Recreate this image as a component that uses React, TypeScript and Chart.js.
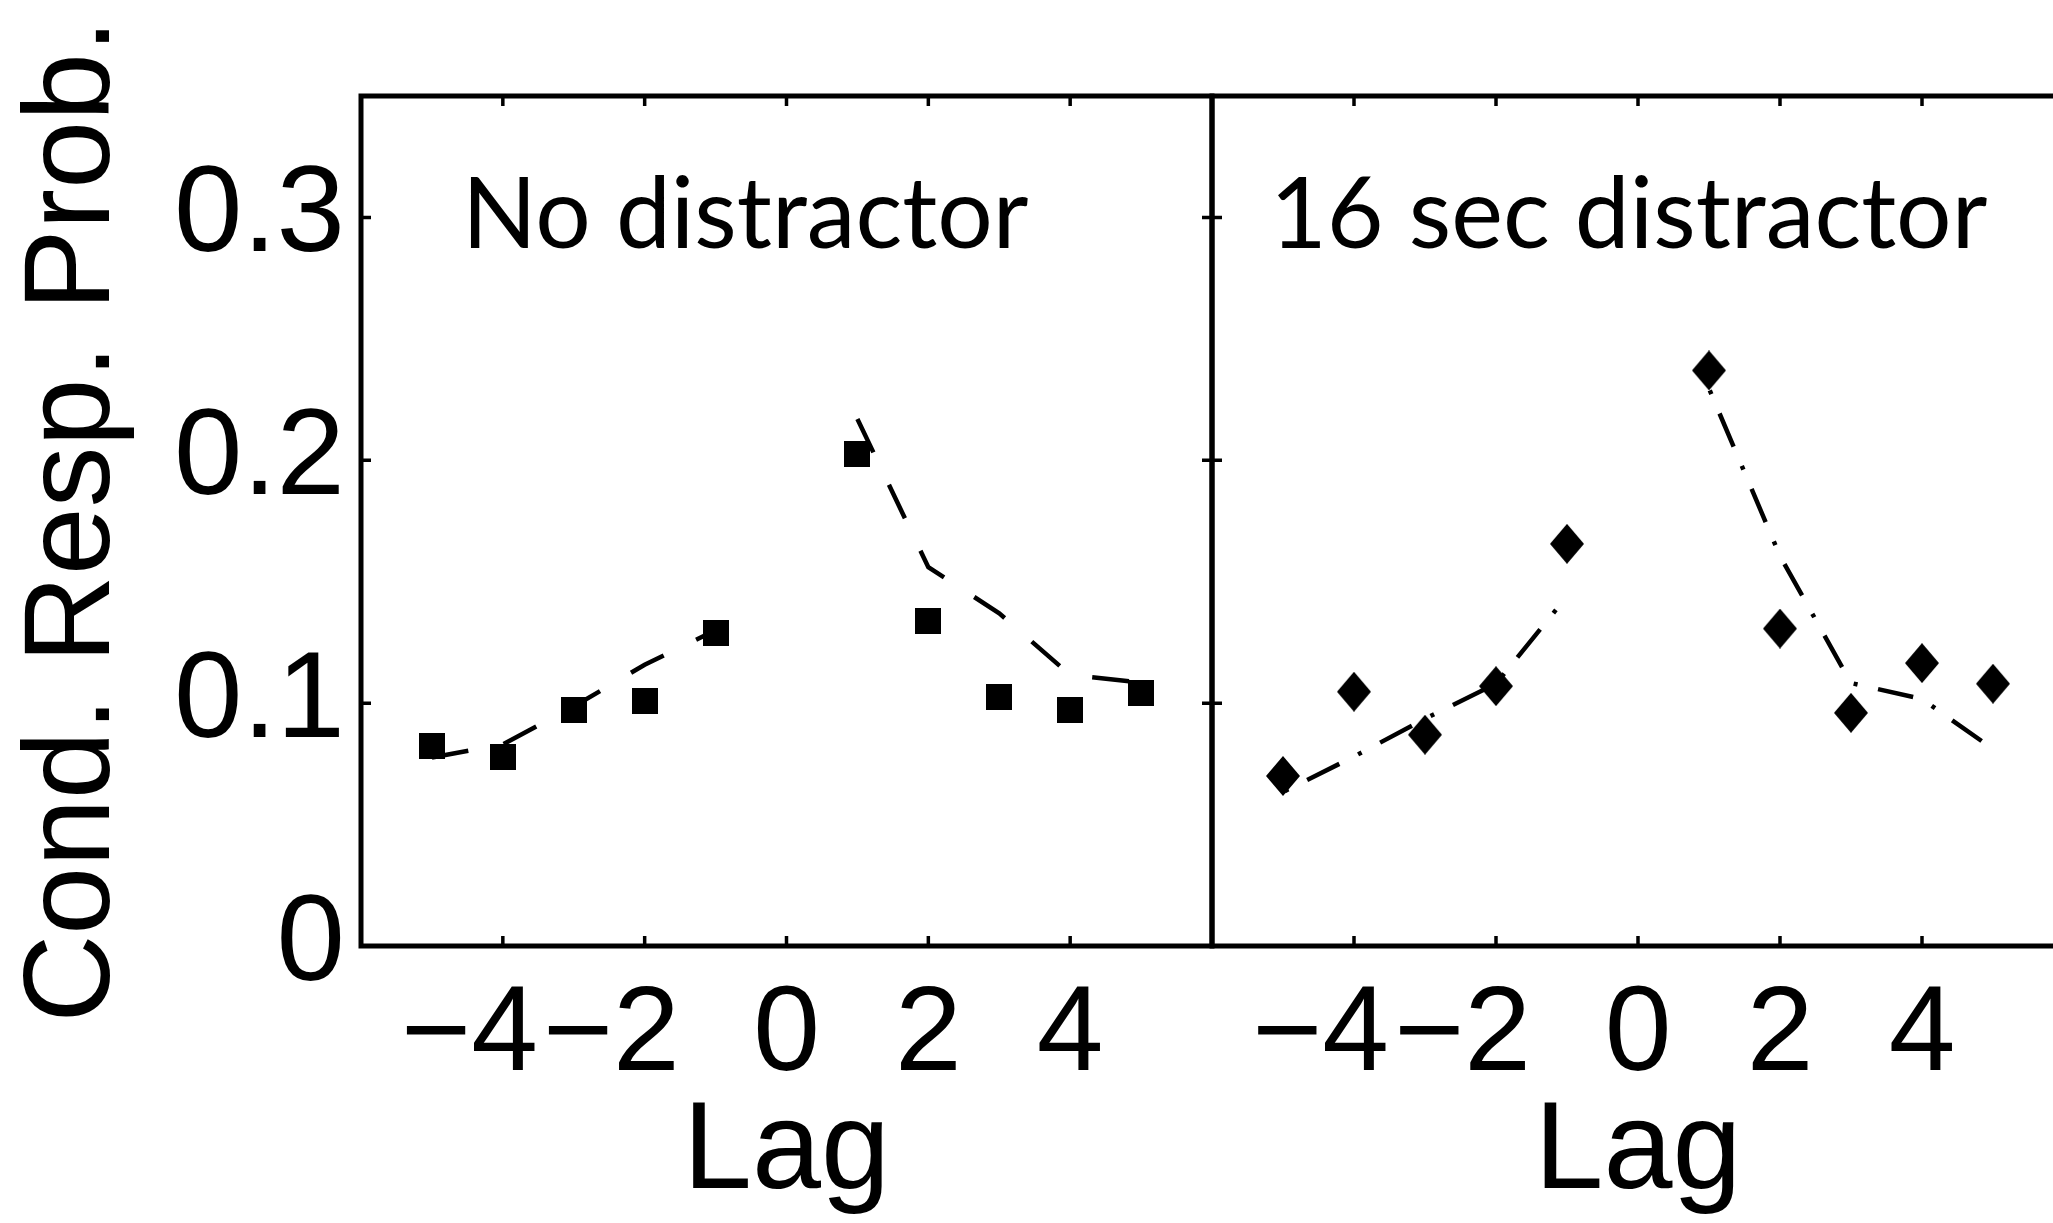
import { useEffect, useRef } from 'react';
import { Chart, registerables } from 'chart.js';

Chart.register(...registerables);

// Serial-position lags and conditional response probabilities
const lags = [-5, -4, -3, -2, -1, 0, 1, 2, 3, 4, 5];
const noDistractorObserved = [0.0825, 0.078, 0.097, 0.101, 0.129, null, 0.2027, 0.134, 0.1026, 0.097, 0.104];
const noDistractorModel = [0.0776, 0.083, 0.0986, 0.1158, 0.13, null, 0.217, 0.156, 0.137, 0.1116, 0.1085];
const distractorObserved = [0.07, 0.1047, 0.087, 0.107, 0.1656, null, 0.237, 0.1307, 0.096, 0.1165, 0.108];
const distractorModel = [0.0634, 0.078, 0.0936, 0.108, 0.144, null, 0.2295, 0.1606, 0.1083, 0.1017, 0.0811];

const xTickValues = [-4, -2, 0, 2, 4];
const yTickValues = [0, 0.1, 0.2, 0.3];
const panelTitles = ['No distractor', '16 sec distractor'];
const yAxisTitle = 'Cond. Resp. Prob.';
const xAxisTitle = 'Lag';

const X_MIN = -6;
const X_MAX = 6;
const Y_MIN = 0;
const Y_MAX = 0.35;

const WIN_W = 2053;
const WIN_H = 1223;
const PLOT_TOP = 96;
const PLOT_BOTTOM = 946;
const PLOT_LEFT = 361;

const SANS = "'Liberation Sans', Arial, Helvetica, sans-serif";
const TITLE_FONT = "400 98px Lato, 'Open Sans', sans-serif";

function squareMarker(size: number) {
  const c = document.createElement('canvas');
  c.width = size;
  c.height = size;
  const g = c.getContext('2d')!;
  g.fillStyle = '#000';
  g.fillRect(0, 0, size, size);
  return c;
}

function diamondMarker(w: number, h: number) {
  const c = document.createElement('canvas');
  c.width = w;
  c.height = h;
  const g = c.getContext('2d')!;
  g.fillStyle = '#000';
  g.beginPath();
  g.moveTo(w / 2, 0);
  g.lineTo(w, h / 2);
  g.lineTo(w / 2, h);
  g.lineTo(0, h / 2);
  g.closePath();
  g.fill();
  return c;
}

// Box outline with inward tick marks on all four sides, plus the panel label
const panelFrame = {
  id: 'panelFrame',
  afterDraw(chart: any, _args: any, opts: any) {
    const { ctx, chartArea: a, scales } = chart;
    const xs = scales.x;
    const ys = scales.y;
    ctx.save();
    ctx.strokeStyle = '#000';
    ctx.lineCap = 'butt';
    ctx.lineWidth = 3.5;
    ctx.beginPath();
    for (const v of xTickValues) {
      const px = xs.getPixelForValue(v);
      ctx.moveTo(px, a.bottom);
      ctx.lineTo(px, a.bottom - 10);
      ctx.moveTo(px, a.top);
      ctx.lineTo(px, a.top + 10);
    }
    for (const v of yTickValues) {
      if (v === Y_MIN) continue;
      const py = ys.getPixelForValue(v);
      ctx.moveTo(a.left, py);
      ctx.lineTo(a.left + 10, py);
      ctx.moveTo(a.right, py);
      ctx.lineTo(a.right - 10, py);
    }
    ctx.stroke();
    ctx.lineWidth = 5;
    ctx.strokeRect(a.left, a.top, a.right - a.left, a.bottom - a.top);

    ctx.fillStyle = '#000';
    ctx.font = TITLE_FONT;
    ctx.textAlign = 'left';
    ctx.textBaseline = 'alphabetic';
    ctx.fillText(opts.title, a.left + opts.titleDx, a.top + opts.titleDy);
    ctx.restore();
  },
};

type PanelProps = {
  left: number;
  width: number;
  padLeft: number;
  padRight: number;
  showY: boolean;
  title: string;
  titleDx: number;
  observed: (number | null)[];
  model: (number | null)[];
  marker: 'square' | 'diamond';
  dash: number[];
  dashOffset: number;
};

function Panel(p: PanelProps) {
  const ref = useRef<HTMLCanvasElement | null>(null);

  useEffect(() => {
    const canvas = ref.current;
    if (!canvas) return;
    const markerImg = p.marker === 'square' ? squareMarker(26) : diamondMarker(34, 40);

    const xLabel = (v: number) => (v < 0 ? '\u2212' + Math.abs(v) + '\u2007' : String(v));

    const chart = new Chart(canvas, {
      type: 'line',
      data: {
        datasets: [
          {
            label: 'model',
            data: lags.map((x, i) => ({ x, y: p.model[i] })) as any,
            borderColor: '#000',
            borderWidth: 4.5,
            borderDash: p.dash,
            borderDashOffset: p.dashOffset,
            borderCapStyle: 'butt',
            pointRadius: 0,
            pointHoverRadius: 0,
            tension: 0,
            fill: false,
            spanGaps: false,
            order: 2,
          },
          {
            label: 'observed',
            data: lags.map((x, i) => ({ x, y: p.observed[i] })) as any,
            showLine: false,
            pointStyle: markerImg as any,
            pointRadius: 12,
            pointHoverRadius: 12,
            order: 1,
          },
        ],
      },
      options: {
        animation: false,
        responsive: false,
        events: [],
        layout: { padding: { left: p.padLeft, right: p.padRight, top: PLOT_TOP, bottom: 0 } },
        plugins: {
          legend: { display: false },
          tooltip: { enabled: false },
          panelFrame: { title: p.title, titleDx: p.titleDx, titleDy: 152 },
        } as any,
        scales: {
          x: {
            type: 'linear',
            position: 'bottom',
            min: X_MIN,
            max: X_MAX,
            afterBuildTicks: (s: any) => {
              s.ticks = xTickValues.map((value) => ({ value }));
            },
            afterFit: (s: any) => {
              s.height = WIN_H - PLOT_BOTTOM;
            },
            grid: { display: false, drawTicks: false },
            border: { display: false },
            ticks: {
              color: '#000',
              font: { family: SANS, size: 120 },
              padding: 19,
              maxRotation: 0,
              autoSkip: false,
              callback: (v: any) => xLabel(Number(v)),
            },
            title: {
              display: true,
              text: xAxisTitle,
              color: '#000',
              font: { family: SANS, size: 124, lineHeight: 1 },
              padding: { top: 0, bottom: 7 },
            },
          },
          y: {
            type: 'linear',
            display: p.showY,
            min: Y_MIN,
            max: Y_MAX,
            afterBuildTicks: (s: any) => {
              s.ticks = yTickValues.map((value) => ({ value }));
            },
            afterFit: (s: any) => {
              if (p.showY) s.width = PLOT_LEFT;
            },
            grid: { display: false, drawTicks: false },
            border: { display: false },
            ticks: {
              color: '#000',
              font: { family: SANS, size: 123 },
              padding: 16,
              autoSkip: false,
              callback: (v: any) => String(v),
            },
            title: {
              display: true,
              text: yAxisTitle,
              color: '#000',
              font: { family: SANS, size: 122, lineHeight: 1.2 },
              padding: { top: 2.5, bottom: 0 },
            },
          },
        },
      } as any,
      plugins: [panelFrame],
    });

    return () => chart.destroy();
  }, []);

  return (
    <canvas
      ref={ref}
      width={p.width}
      height={WIN_H}
      style={{ position: 'absolute', left: p.left, top: 0, width: p.width, height: WIN_H }}
    />
  );
}

export default function App() {
  return (
    <div
      style={{
        position: 'fixed',
        left: 0,
        top: 0,
        width: WIN_W,
        height: WIN_H,
        overflow: 'hidden',
        background: '#fff',
      }}
    >
      <Panel
        left={0}
        width={1240}
        padLeft={0}
        padRight={28}
        showY={true}
        title={panelTitles[0]}
        titleDx={101}
        observed={noDistractorObserved}
        model={noDistractorModel}
        marker="square"
        dash={[37, 36]}
        dashOffset={0}
      />
      <Panel
        left={1150}
        width={1000}
        padLeft={62}
        padRight={86}
        showY={false}
        title={panelTitles[1]}
        titleDx={58}
        observed={distractorObserved}
        model={distractorModel}
        marker="diamond"
        dash={[36, 21, 4, 21]}
        dashOffset={55}
      />
    </div>
  );
}
